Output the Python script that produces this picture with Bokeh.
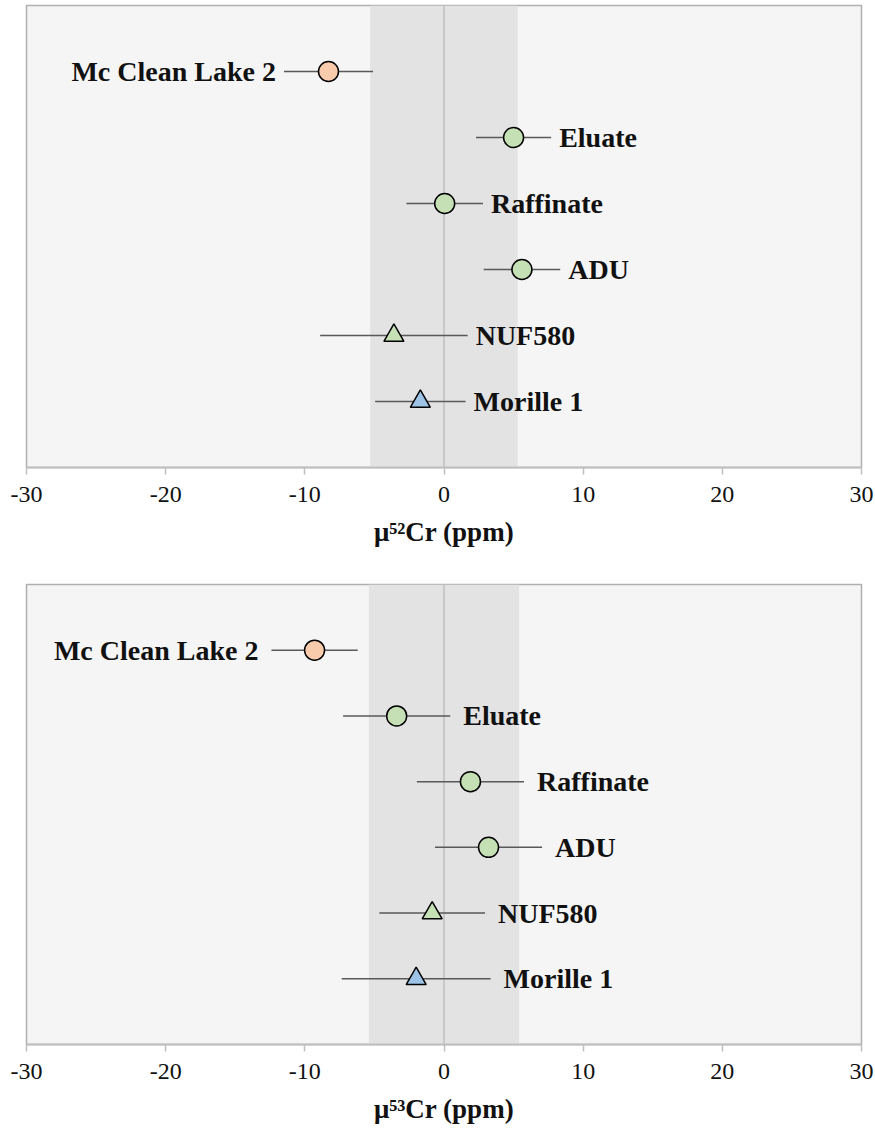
from bokeh.plotting import figure
from bokeh.layouts import column
from bokeh.models import (ColumnDataSource, Range1d, BoxAnnotation, Span, FixedTicker,
                          CustomJSTickFormatter)
from bokeh.core.properties import value
from bokeh.embed import file_html
from bokeh.resources import INLINE

# ---------------- data ----------------
samples = ["Mc Clean Lake 2", "Eluate", "Raffinate", "ADU", "NUF580", "Morille 1"]
rows = [6, 5, 4, 3, 2, 1]
markers = ["circle", "circle", "circle", "circle", "triangle", "triangle"]
fills = ["#f8cbad", "#c5e0b4", "#c5e0b4", "#c5e0b4", "#c5e0b4", "#9dc3e6"]
label_side = ["left", "right", "right", "right", "right", "right"]

mu52 = [-8.3, 5.0, 0.05, 5.6, -3.6, -1.7]
mu52_err = [3.2, 2.7, 2.75, 2.75, 5.3, 3.25]
mu53 = [-9.3, -3.4, 1.9, 3.2, -0.85, -2.0]
mu53_err = [3.1, 3.85, 3.85, 3.85, 3.8, 5.35]

band52 = 5.3
band53 = 5.4
x_ticks = [-30, -20, -10, 0, 10, 20, 30]
x_min, x_max = -30, 30

SERIF = "Liberation Serif"


def panel(vals, errs, band, title, height, top_border, bottom_border, gap):
    p = figure(width=875, height=height, output_backend="svg", toolbar_location=None,
               x_range=Range1d(x_min, x_max), y_range=Range1d(0, 7),
               min_border_left=26, min_border_right=14, min_border_top=top_border,
               min_border_bottom=bottom_border)
    p.background_fill_color = "#f5f5f5"
    p.border_fill_color = "white"
    p.outline_line_color = "#b0b0b0"
    p.outline_line_width = 1.5
    p.xgrid.visible = False
    p.ygrid.visible = False
    p.yaxis.visible = False

    p.add_layout(BoxAnnotation(left=-band, right=band, fill_color="#e3e3e3",
                               fill_alpha=1.0, line_alpha=0, level="underlay"))
    p.add_layout(Span(location=0, dimension="height", line_color="#bfbfbf",
                      line_width=1.5, level="underlay"))

    lo = [v - e for v, e in zip(vals, errs)]
    hi = [v + e for v, e in zip(vals, errs)]
    src = ColumnDataSource(dict(x=vals, y=rows, lo=lo, hi=hi, name=samples,
                                marker=markers, fill=fills))
    p.segment(x0="lo", y0="y", x1="hi", y1="y", source=src,
              line_color="#595959", line_width=1.5)
    p.scatter(x="x", y="y", source=src, marker="marker", size=20,
              fill_color="fill", line_color="black", line_width=1.5)

    lidx = [i for i, s in enumerate(label_side) if s == "left"]
    ridx = [i for i, s in enumerate(label_side) if s == "right"]
    lsrc = ColumnDataSource(dict(x=[lo[i] for i in lidx], y=[rows[i] for i in lidx],
                                 t=[samples[i] for i in lidx]))
    rsrc = ColumnDataSource(dict(x=[hi[i] for i in ridx], y=[rows[i] for i in ridx],
                                 t=[samples[i] for i in ridx]))
    common = dict(text="t", text_font=value(SERIF), text_font_style="bold",
                  text_font_size="28px", text_color="#111111", text_baseline="middle")
    p.text(x="x", y="y", source=lsrc, x_offset=-gap, text_align="right", **common)
    p.text(x="x", y="y", source=rsrc, x_offset=gap, text_align="left", **common)

    ax = p.xaxis[0]
    ax.ticker = FixedTicker(ticks=x_ticks)
    ax.formatter = CustomJSTickFormatter(code="return tick.toFixed(0);")
    ax.minor_tick_line_color = None
    ax.major_tick_in = 0
    ax.major_tick_out = 7
    ax.major_tick_line_color = "#bfbfbf"
    ax.major_tick_line_width = 1.5
    ax.axis_line_color = "#bfbfbf"
    ax.axis_line_width = 2
    ax.major_label_text_font = SERIF
    ax.major_label_text_font_size = "24px"
    ax.major_label_text_color = "#111111"
    ax.major_label_standoff = 12
    ax.axis_label = title
    ax.axis_label_text_font = SERIF
    ax.axis_label_text_font_style = "bold"
    ax.axis_label_text_font_size = "27px"
    ax.axis_label_text_color = "#111111"
    ax.axis_label_standoff = 12
    return p


p1 = panel(mu52, mu52_err, band52, "\u03bc\u2075\u00b2Cr (ppm)", 583, 5, 116, 8)
p2 = panel(mu53, mu53_err, band53, "\u03bc\u2075\u00b3Cr (ppm)", 552, 1, 91, 13)

layout = column(p1, p2, spacing=0)
open("out.html", "w").write(file_html(layout, INLINE))
